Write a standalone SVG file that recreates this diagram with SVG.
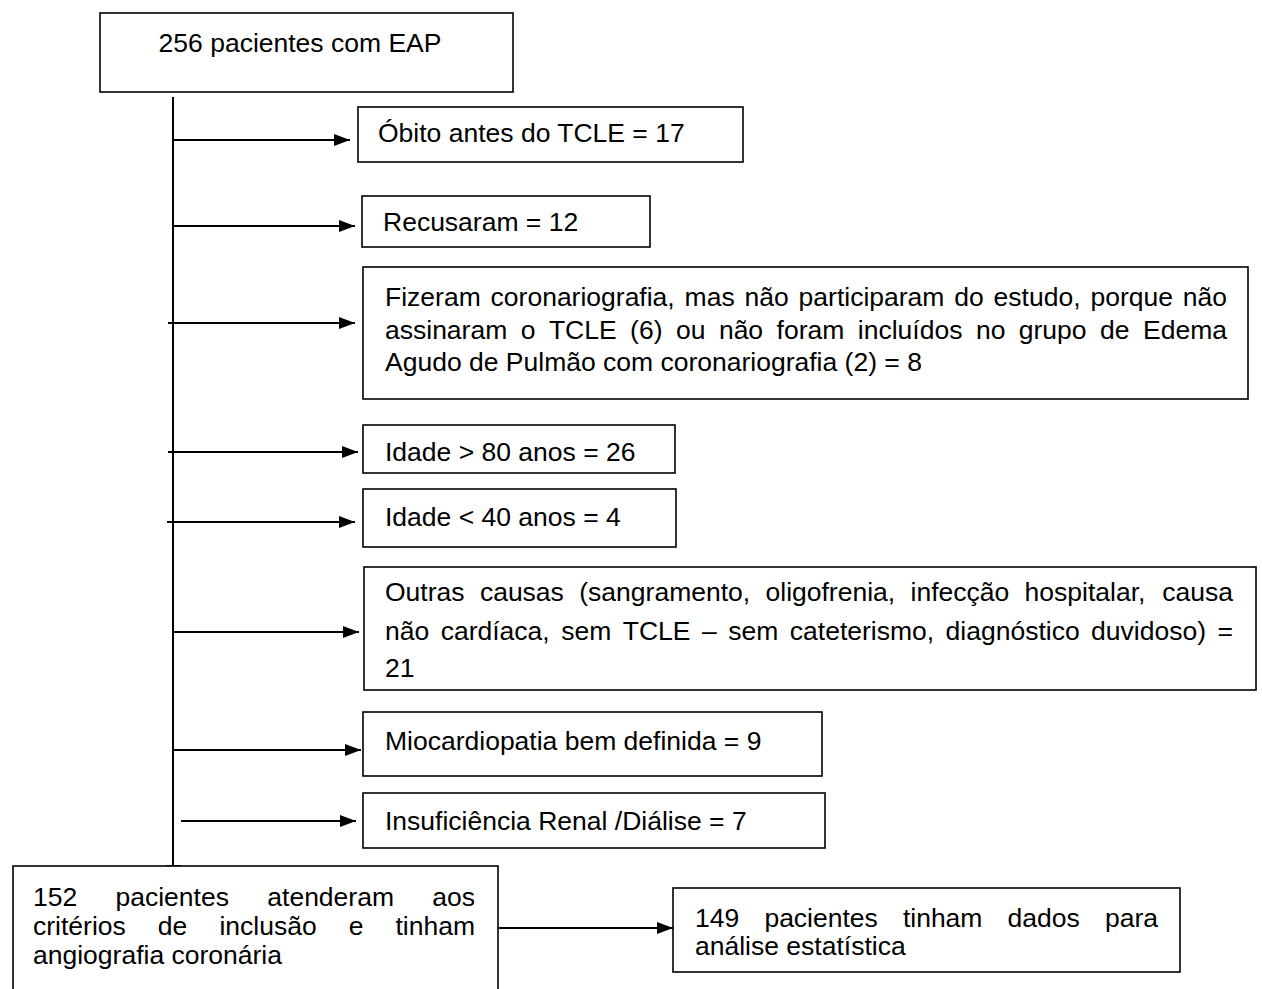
<svg xmlns="http://www.w3.org/2000/svg" width="1262" height="989" viewBox="0 0 1262 989">
<style>
.box{fill:#fff;stroke:#000;stroke-width:1.6}
.t{font-family:"Liberation Sans",Arial,sans-serif;font-size:26.5px;fill:#000}
.c{stroke:#000;stroke-width:2;fill:none}
.a{stroke:#000;stroke-width:2;fill:none;marker-end:url(#ah)}
</style>
<defs>
<marker id="ah" markerUnits="userSpaceOnUse" markerWidth="16" markerHeight="12" refX="16" refY="6" orient="auto">
<path d="M0,0 L16,6 L0,12 Z" fill="#000"/>
</marker>
</defs>
<rect width="1262" height="989" fill="#fff"/>
<g id="connectors">
<line class="c" x1="173" y1="97" x2="173" y2="866"/>
<line class="c" x1="166" y1="866" x2="181" y2="866" stroke-width="3"/>
<line class="a" x1="173" y1="140" x2="350" y2="140"/>
<line class="a" x1="173" y1="226" x2="355" y2="226"/>
<line class="a" x1="168" y1="323" x2="355" y2="323"/>
<line class="a" x1="168" y1="452" x2="358" y2="452"/>
<line class="a" x1="167" y1="522" x2="355" y2="522"/>
<line class="a" x1="173" y1="632" x2="359" y2="632"/>
<line class="a" x1="173" y1="750" x2="361" y2="750"/>
<line class="a" x1="181" y1="821" x2="356" y2="821"/>
<line class="a" x1="499" y1="928" x2="673" y2="928"/>
</g>
<g id="n-start">
<rect class="box" x="100" y="13" width="413" height="79"/>
<text class="t" x="300" y="52" text-anchor="middle">256 pacientes com EAP</text>
</g>
<g id="n-obito">
<rect class="box" x="358" y="107" width="385" height="55"/>
<text class="t" x="378" y="142">Óbito antes do TCLE = 17</text>
</g>
<g id="n-recusaram">
<rect class="box" x="362" y="196" width="288" height="51"/>
<text class="t" x="383" y="231">Recusaram = 12</text>
</g>
<g id="n-fizeram">
<rect class="box" x="363" y="267" width="885" height="132"/>
<text class="t" y="306"><tspan x="385">Fizeram</tspan><tspan x="490.6">coronariografia,</tspan><tspan x="684.6">mas</tspan><tspan x="744.5">não</tspan><tspan x="798.6">participaram</tspan><tspan x="954.3">do</tspan><tspan x="993.6">estudo,</tspan><tspan x="1090.5">porque</tspan><tspan x="1182.8">não</tspan></text>
<text class="t" y="339"><tspan x="385">assinaram</tspan><tspan x="520.7">o</tspan><tspan x="548.9">TCLE</tspan><tspan x="630.1">(6)</tspan><tspan x="676">ou</tspan><tspan x="718.9">não</tspan><tspan x="776.6">foram</tspan><tspan x="857.8">incluídos</tspan><tspan x="975.9">no</tspan><tspan x="1018.8">grupo</tspan><tspan x="1100.1">de</tspan><tspan x="1143">Edema</tspan></text>
<text class="t" x="385" y="371">Agudo de Pulmão com coronariografia (2) = 8</text>
</g>
<g id="n-idade80">
<rect class="box" x="363" y="425" width="312" height="48"/>
<text class="t" x="385" y="461">Idade &gt; 80 anos = 26</text>
</g>
<g id="n-idade40">
<rect class="box" x="363" y="489" width="313" height="58"/>
<text class="t" x="385" y="526">Idade &lt; 40 anos = 4</text>
</g>
<g id="n-outras">
<rect class="box" x="364" y="567" width="892" height="123"/>
<text class="t" y="601"><tspan x="385">Outras</tspan><tspan x="479.9">causas</tspan><tspan x="579.3">(sangramento,</tspan><tspan x="765.5">oligofrenia,</tspan><tspan x="910.5">infecção</tspan><tspan x="1024.6">hospitalar,</tspan><tspan x="1162.3">causa</tspan></text>
<text class="t" y="640"><tspan x="385">não</tspan><tspan x="440.7">cardíaca,</tspan><tspan x="561.2">sem</tspan><tspan x="622.8">TCLE</tspan><tspan x="702">–</tspan><tspan x="728.2">sem</tspan><tspan x="789.8">cateterismo,</tspan><tspan x="945.6">diagnóstico</tspan><tspan x="1091.1">duvidoso)</tspan><tspan x="1217.5">=</tspan></text>
<text class="t" x="385" y="677">21</text>
</g>
<g id="n-mio">
<rect class="box" x="363" y="712" width="459" height="64"/>
<text class="t" x="385" y="750">Miocardiopatia bem definida = 9</text>
</g>
<g id="n-renal">
<rect class="box" x="363" y="793" width="462" height="55"/>
<text class="t" x="385" y="830">Insuficiência Renal /Diálise = 7</text>
</g>
<g id="n-152">
<rect class="box" x="13" y="866" width="485" height="140"/>
<text class="t" y="906"><tspan x="33">152</tspan><tspan x="115.5">pacientes</tspan><tspan x="267.3">atenderam</tspan><tspan x="432.3">aos</tspan></text>
<text class="t" y="935"><tspan x="33">critérios</tspan><tspan x="157.8">de</tspan><tspan x="219.4">inclusão</tspan><tspan x="348.7">e</tspan><tspan x="395.5">tinham</tspan></text>
<text class="t" x="33" y="964">angiografia coronária</text>
</g>
<g id="n-149">
<rect class="box" x="673" y="888" width="507" height="84"/>
<text class="t" y="927"><tspan x="695">149</tspan><tspan x="764.4">pacientes</tspan><tspan x="902.9">tinham</tspan><tspan x="1007.6">dados</tspan><tspan x="1105">para</tspan></text>
<text class="t" x="695" y="955">análise estatística</text>
</g>
</svg>
